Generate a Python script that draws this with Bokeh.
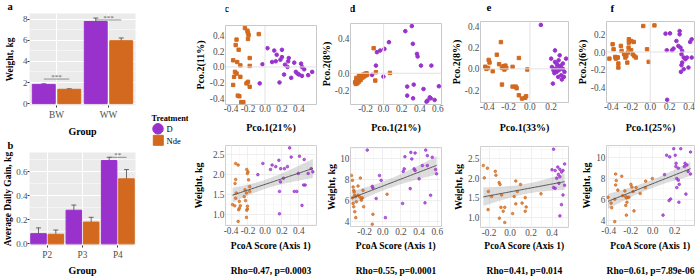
import numpy as np
from bokeh.plotting import figure
from bokeh.models import (Range1d, FixedTicker, Span, Whisker, TeeHead, ColumnDataSource,
                          PrintfTickFormatter, Title)
from bokeh.layouts import row, column
from bokeh.embed import file_html
from bokeh.resources import INLINE
from bokeh.core.properties import value

FONT = "Liberation Serif"
PURPLE = "#9932CC"
ORANGE = "#D2691E"
TICK_COL = "#4D4D4D"

# ------------------------------------------------------------------ data
treatments = ["D", "Nde"]

a_groups = ["BW", "WW"]
a_D = [1.82, 7.79]
a_D_se = [0.06, 0.33]
a_N = [1.36, 5.97]
a_N_se = [0.05, 0.26]
a_sig_groups = ["BW", "WW"]
a_sig = ["***", "***"]
a_sig_y = [2.33, 7.94]

b_groups = ["P2", "P3", "P4"]
b_D = [0.085, 0.280, 0.693]
b_D_se = [0.048, 0.043, 0.027]
b_N = [0.080, 0.181, 0.541]
b_N_se = [0.035, 0.040, 0.077]
b_sig_groups = ["P4"]
b_sig = ["**"]
b_sig_y = [0.72]

# panel c
c_top_D_x = [0.029, 0.109, 0.200, 0.138, 0.200, 0.280, 0.127, 0.182, 0.273, 0.345, -0.029, 0.084, 0.236, 0.425,
             0.265, 0.436, 0.462, 0.364, 0.225, 0.400, 0.382, 0.556, 0.509, 0.436, 0.309, 0.171, -0.062]
c_top_D_y = [0.240, 0.210, 0.219, 0.156, 0.126, 0.114, 0.072, 0.093, 0.072, 0.055, 0.034, 0.063, 0.029, 0.042,
             0.000, 0.000, -0.030, -0.063, -0.097, -0.097, -0.084, -0.063, -0.105, -0.114, -0.139, -0.198, -0.210]
c_top_N_x = [-0.236, -0.207, -0.200, -0.193, -0.073, -0.335, -0.200, -0.345, -0.310, -0.375, -0.180, -0.327, -0.290,
             -0.180, -0.353, -0.335, -0.290, -0.364, -0.200, -0.218, -0.375, -0.180, -0.320, -0.302, -0.280, -0.255]
c_top_N_y = [0.497, 0.463, 0.434, 0.408, 0.420, 0.350, 0.358, 0.280, 0.220, 0.085, 0.114, 0.063, 0.020,
             0.013, -0.063, -0.084, -0.126, -0.126, -0.190, -0.210, -0.230, -0.253, -0.366, -0.375, -0.450, -0.450]
c_bot_D_x = [-0.025, -0.084, 0.084, 0.127, 0.164, 0.185, 0.229, 0.265, 0.291, 0.309, 0.407, 0.462, 0.545,
             0.564, 0.509, 0.393, 0.218, 0.182, 0.345, 0.375, 0.455, 0.473, 0.436, 0.171, 0.171, 0.065]
c_bot_D_y = [2.28, 2.00, 2.24, 2.20, 2.36, 2.15, 2.15, 2.20, 2.67, 2.44, 2.46, 2.38, 2.15,
             2.07, 2.03, 2.03, 1.91, 1.82, 1.58, 1.58, 1.74, 1.74, 1.23, 1.58, 1.02, 2.13]
c_bot_N_x = [-0.353, -0.345, -0.345, -0.316, -0.338, -0.345, -0.382, -0.356, -0.302, -0.290, -0.302, -0.310, -0.316,
             -0.215, -0.200, -0.207, -0.193, -0.180, -0.236, -0.218, -0.244, -0.229, -0.207, -0.207, -0.215, -0.218,
             -0.180]
c_bot_N_y = [1.78, 1.88, 2.28, 2.24, 1.54, 1.41, 1.25, 1.22, 1.33, 1.22, 1.16, 1.12, 0.83,
             2.13, 2.07, 2.03, 1.87, 1.70, 1.62, 1.54, 1.45, 1.35, 1.21, 1.14, 1.11, 0.93, 1.58]

# panel d
d_top_D_x = [-0.074, -0.038, 0.009, 0.059, -0.085, -0.128, -0.002, 0.240, 0.312, 0.323, 0.369, 0.376, 0.413,
             0.528, 0.261, 0.333, 0.261, 0.326, 0.441, 0.521, 0.510, 0.485, 0.474, 0.564, 0.611]
d_top_D_y = [0.245, 0.264, 0.283, 0.361, 0.089, -0.019, -0.039, 0.489, 0.548, 0.342, 0.225, 0.194, 0.089,
             0.089, -0.155, -0.132, -0.260, -0.291, -0.183, -0.291, -0.280, -0.318, -0.330, -0.310, -0.151]
d_top_N_x = [-0.315, -0.301, -0.279, -0.261, -0.243, -0.225, -0.207, -0.189, -0.308, -0.290, -0.272, -0.254,
             -0.236, -0.218, -0.200, -0.182, -0.272, -0.301, -0.110, -0.085, -0.092, 0.070]
d_top_N_y = [-0.105, -0.085, -0.066, -0.047, -0.027, -0.016, -0.008, 0.000, -0.124, -0.117, -0.097, -0.078,
             -0.054, -0.039, -0.027, -0.016, -0.027, -0.054, 0.291, 0.012, -0.085, 0.004]
d_bot_D_x = [-0.171, -0.116, -0.109, -0.036, -0.018, -0.073, 0.029, 0.236, 0.225, 0.244, 0.309, 0.320, 0.356,
             0.345, 0.356, 0.302, 0.400, 0.473, 0.491, 0.436, 0.491, 0.545, 0.582, 0.593, 0.465, 0.527, 0.218]
d_bot_D_y = [10.85, 7.38, 7.22, 8.42, 7.95, 6.21, 4.38, 9.05, 8.80, 10.22, 10.63, 10.00, 10.57,
             9.05, 8.90, 7.16, 8.10, 10.85, 10.32, 9.37, 9.37, 10.16, 8.99, 8.58, 5.80, 6.53, 5.74]
d_bot_N_x = [-0.345, -0.335, -0.327, -0.320, -0.316, -0.309, -0.302, -0.335, -0.291, -0.273, -0.255, -0.236,
             -0.320, -0.309, -0.298, -0.327, -0.247, -0.273, -0.218, -0.225, -0.236, -0.109, -0.116, -0.211, 0.047]
d_bot_N_y = [8.42, 7.95, 7.32, 7.00, 6.84, 6.53, 6.37, 6.27, 5.90, 6.53, 6.37, 6.21,
             5.42, 4.95, 4.38, 5.74, 8.17, 7.41, 7.00, 6.27, 6.05, 4.70, 3.75, 5.42, 6.62]

# panel e
e_top_D_x = [0.103, 0.236, 0.280, 0.200, 0.236, 0.260, 0.280, 0.295, 0.310, 0.325, 0.207, 0.221, 0.251,
             0.266, 0.295, 0.216, 0.242, 0.272, 0.319, 0.340, 0.250, 0.290, 0.230, 0.300, 0.270, 0.310]
e_top_D_y = [0.412, 0.173, 0.127, 0.096, 0.065, 0.034, 0.018, 0.003, 0.050, -0.028, 0.018, -0.013, -0.028,
             -0.075, -0.060, -0.138, 0.003, -0.013, -0.075, 0.096, 0.050, 0.030, -0.040, -0.100, 0.080, 0.000]
e_top_N_x = [-0.420, -0.409, -0.394, -0.388, -0.380, -0.350, -0.311, -0.273, -0.290, -0.263, -0.249, -0.240,
             -0.237, -0.231, -0.222, -0.263, -0.163, -0.163, -0.134, -0.125, -0.104, -0.024, -0.104, -0.075,
             -0.045, -0.036]
e_top_N_y = [0.020, 0.000, 0.009, 0.084, 0.060, -0.022, 0.133, 0.251, 0.044, 0.009, 0.025, -0.006,
             0.019, 0.031, 0.009, -0.147, 0.019, -0.166, -0.166, -0.181, 0.102, -0.006, -0.247, -0.278,
             -0.271, -0.256]
e_bot_D_x = [0.415, 0.400, 0.430, 0.455, 0.475, 0.505, 0.460, 0.445, 0.475, 0.490, 0.466, 0.430, 0.520,
             0.520, 0.505, 0.490, 0.475, 0.415]
e_bot_D_y = [2.75, 2.22, 2.20, 2.29, 2.23, 2.20, 2.10, 2.00, 2.04, 2.16, 1.87, 1.74, 2.37,
             1.82, 1.57, 1.32, 1.03, 1.76]
e_bot_N_x = [-0.254, -0.215, -0.245, -0.206, -0.209, -0.140, -0.134, -0.104, -0.095, -0.176, -0.086, -0.065,
             -0.050, -0.101, -0.050, -0.080, 0.055, 0.100, 0.070, 0.040, 0.025, 0.055, 0.115, 0.145, 0.145,
             0.154, 0.295]
e_bot_N_y = [2.33, 2.26, 2.01, 1.66, 1.19, 2.18, 2.08, 1.89, 1.84, 1.53, 1.25, 1.15,
             1.25, 0.97, 0.86, 1.57, 1.93, 1.84, 1.66, 1.53, 1.09, 1.34, 1.36, 1.50, 1.15,
             1.26, 1.60]

# panel f
f_top_D_x = [0.157, 0.203, 0.170, 0.223, 0.239, 0.269, 0.302, 0.302, 0.289, 0.311, 0.328, 0.321, 0.344,
             0.361, 0.328, 0.321, 0.315, 0.344, 0.393, 0.426, 0.410, 0.426, 0.377, 0.174]
f_top_D_y = [0.208, 0.211, 0.020, 0.020, 0.039, 0.125, 0.237, 0.200, 0.069, 0.050, 0.013, -0.025, -0.062,
             -0.081, -0.119, -0.149, -0.224, -0.194, -0.175, 0.144, 0.114, -0.062, -0.062, -0.539]
f_top_N_x = [-0.420, -0.387, -0.377, -0.360, -0.354, -0.344, -0.334, -0.328, -0.328, -0.302, -0.295, -0.269,
             -0.256, -0.246, -0.236, -0.230, -0.223, -0.220, -0.220, -0.197, -0.197, -0.170, -0.180, -0.164,
             -0.148, -0.072, -0.033, -0.016, 0.043]
f_top_N_y = [-0.074, 0.088, 0.031, -0.055, -0.074, -0.062, -0.062, -0.130, -0.175, 0.069, 0.013, -0.025,
             -0.062, -0.044, -0.119, -0.006, 0.050, 0.144, 0.106, 0.125, 0.020, 0.114, -0.025, -0.044,
             -0.062, 0.294, 0.031, -0.111, 0.301]
f_bot_D_x = [0.094, 0.108, 0.127, 0.155, 0.163, 0.149, 0.191, 0.205, 0.213, 0.211, 0.233, 0.219, 0.233,
             0.241, 0.219, 0.255, 0.288, 0.294, 0.311, 0.344, 0.322, 0.344, 0.302, 0.238]
f_bot_D_y = [4.47, 8.38, 10.25, 10.09, 6.03, 5.88, 10.88, 10.25, 9.47, 9.16, 9.00, 8.00, 7.84,
             7.44, 7.13, 10.88, 9.16, 9.47, 9.31, 10.56, 8.69, 8.44, 6.50, 5.72]
f_bot_N_x = [-0.406, -0.378, -0.373, -0.345, -0.337, -0.331, -0.337, -0.317, -0.345, -0.281, -0.273, -0.253,
             -0.245, -0.239, -0.234, -0.245, -0.239, -0.226, -0.217, -0.198, -0.178, -0.189, -0.170, -0.151,
             -0.114, -0.067, -0.064, -0.003]
f_bot_N_y = [6.19, 5.63, 5.19, 6.00, 8.44, 7.81, 7.38, 6.88, 3.84, 8.22, 6.34, 6.81,
             6.25, 6.13, 5.72, 5.41, 4.47, 6.19, 6.19, 7.44, 6.75, 7.19, 4.88, 7.13,
             6.56, 7.13, 7.75, 8.00]

panel_letters = ["a", "b", "c", "d", "e", "f"]
pc_x_labels = {"c": "Pco.1(21%)", "d": "Pco.1(21%)", "e": "Pco.1(33%)", "f": "Pco.1(25%)"}
pc_y_labels = {"c": "Pco.2(11%)", "d": "Pco.2(8%)", "e": "Pco.2(8%)", "f": "Pco.2(6%)"}
rho_texts = {"c": "Rho=0.47, p=0.0003", "d": "Rho=0.55, p=0.0001",
             "e": "Rho=0.41, p=0.014", "f": "Rho=0.61, p=7.89e-06"}

# ------------------------------------------------------------------ helpers
def new_fig(width, height, xr, yr, bl, br, bt, bb, **kw):
    return figure(width=width, height=height, x_range=Range1d(*xr), y_range=Range1d(*yr),
                  output_backend="svg", toolbar_location=None, title=None,
                  min_border_left=bl, min_border_right=br, min_border_top=bt, min_border_bottom=bb, **kw)


def blank_fig(width, height, x0=0, y0=0):
    p = new_fig(width, height, (x0 + 1, x0 + width - 1), (y0 + height - 1, y0 + 1), 1, 1, 1, 1,
                x_axis_location=None, y_axis_location=None)
    p.grid.visible = False
    p.outline_line_color = None
    return p


def letter_strip(width, height, letter, lx, ly, size="11px"):
    p = blank_fig(width, height)
    p.text(x=[lx], y=[ly], text=[letter], text_font=value(FONT), text_font_size=size,
           text_font_style="bold", text_align="center", text_baseline="middle", text_color="black")
    return p


def add_letter(p, text, offset, standoff, size="10.5px"):
    p.add_layout(Title(text=text, align="left", vertical_align="top", offset=offset, standoff=standoff,
                       text_font=FONT, text_font_size=size, text_font_style="bold",
                       text_color="black"), "above")


def minors(t):
    s = t[1] - t[0]
    return [t[0] - s / 2] + [(a + b) / 2 for a, b in zip(t[:-1], t[1:])] + [t[-1] + s / 2]


def style_axes(p, xticks, yticks, xlabel, ylabel, xls, yls, tick_out=0, xms=0, yms=1,
               lab_size="9.3px", title_size="10px", ytitle_size="10px", line_height=1.2):
    xt = FixedTicker(ticks=xticks, minor_ticks=minors(xticks))
    yt = FixedTicker(ticks=yticks, minor_ticks=minors(yticks))
    p.xaxis.ticker = xt
    p.yaxis.ticker = yt
    p.xgrid.ticker = xt
    p.ygrid.ticker = yt
    for ax, ticks in ((p.xaxis, xticks), (p.yaxis, yticks)):
        if any(abs(t - round(t)) > 1e-9 for t in ticks):
            ax.formatter = PrintfTickFormatter(format="%.1f")
    for ax, lab, ls, ms, ts in ((p.xaxis, xlabel, xls, xms, title_size),
                                (p.yaxis, ylabel, yls, yms, ytitle_size)):
        ax.axis_label = lab
        ax.axis_label_text_font = FONT
        ax.axis_label_text_font_size = ts
        ax.axis_label_text_font_style = "bold"
        ax.axis_label_text_color = "black"
        ax.axis_label_text_line_height = line_height
        ax.axis_label_standoff = ls
        ax.major_label_text_font = FONT
        ax.major_label_text_font_size = lab_size
        ax.major_label_text_color = TICK_COL
        ax.major_label_standoff = ms
        ax.axis_line_color = None
        ax.major_tick_out = tick_out
        ax.major_tick_in = 0
        ax.minor_tick_out = 0
        ax.minor_tick_in = 0
        ax.major_tick_line_color = "#333333" if tick_out else None


def fit_band(x, y):
    x = np.asarray(x, float)
    y = np.asarray(y, float)
    n = len(x)
    b, a = np.polyfit(x, y, 1)
    xs = np.linspace(x.min(), x.max(), 60)
    yhat = a + b * xs
    s = np.sqrt(np.sum((y - (a + b * x)) ** 2) / (n - 2))
    sxx = np.sum((x - x.mean()) ** 2)
    se = s * np.sqrt(1.0 / n + (xs - x.mean()) ** 2 / sxx)
    return xs, yhat, yhat - 2.0 * se, yhat + 2.0 * se


# ------------------------------------------------------------------ bar panels
def bar_panel(groups, D, Dse, N, Nse, sig_groups, sig, sig_y, star_dy, xr, yr, yticks, ylabel,
              height, bt, bb, yls, xls):
    fl, fr = 24, 135
    p = new_fig(145, height, xr, yr, fl, 145 - fr, bt, bb)
    p.background_fill_color = "#EBEBEB"
    p.outline_line_color = None
    pos = np.arange(1, len(groups) + 1)
    idx = {g: i + 1 for i, g in enumerate(groups)}
    dg, bw = 0.245, 0.44
    xD, xN = pos - dg, pos + dg
    p.vbar(x=xD, top=D, width=bw, color=PURPLE)
    p.vbar(x=xN, top=N, width=bw, color=ORANGE)
    lo = np.concatenate([np.array(D) - np.array(Dse), np.array(N) - np.array(Nse)])
    hi = np.concatenate([np.array(D) + np.array(Dse), np.array(N) + np.array(Nse)])
    src = ColumnDataSource(dict(x=np.concatenate([xD, xN]), lo=lo, hi=hi))
    p.add_layout(Whisker(source=src, base="x", lower="lo", upper="hi", line_color="#333333",
                         line_width=0.7,
                         upper_head=TeeHead(size=5, line_color="#333333", line_width=0.7),
                         lower_head=TeeHead(size=5, line_color="#333333", line_width=0.7)))
    sx0 = [idx[g] - dg for g in sig_groups]
    sx1 = [idx[g] + dg for g in sig_groups]
    p.segment(x0=sx0, y0=sig_y, x1=sx1, y1=sig_y, line_color="#666666", line_width=0.7)
    p.text(x=[idx[g] for g in sig_groups], y=[v + star_dy for v in sig_y], text=sig,
           text_font=value(FONT), text_font_size="7px", text_align="center",
           text_baseline="middle", text_color="#555555")
    style_axes(p, list(pos), yticks, "Group", ylabel, xls, yls, tick_out=2, xms=2, yms=0,
               lab_size="9px", title_size="10px", ytitle_size="9.5px")
    p.xaxis.major_label_overrides = {int(i): g for i, g in zip(pos, groups)}
    p.xaxis.major_label_text_font_size = "9.3px"
    p.xgrid.grid_line_color = "white"
    p.ygrid.grid_line_color = "white"
    p.xgrid.grid_line_width = 1
    p.ygrid.grid_line_width = 1
    p.ygrid.minor_grid_line_color = "white"
    p.ygrid.minor_grid_line_width = 0.5
    return p


# column 1: panel a (0-139) and panel b (139-278), letters as left-aligned titles
fa = bar_panel(a_groups, a_D, a_D_se, a_N, a_N_se, a_sig_groups, a_sig, a_sig_y, 0.2,
               (0.48, 2.52), (-0.18, 8.55), [0, 2, 4, 6, 8], "Weight, kg", 139, 11, 33, 5, 3)
add_letter(fa, panel_letters[0], 2 - 24, 0)
fb = bar_panel(b_groups, b_D, b_D_se, b_N, b_N_se, b_sig_groups, b_sig, b_sig_y, 0.018,
               (0.5, 3.5), (-0.0136, 0.76), [0.0, 0.2, 0.4, 0.6], "Average Daily Gain, kg",
               139, 12, 31, 0, 2)
add_letter(fb, panel_letters[1], 2 - 24, 0)

# ------------------------------------------------------------------ legend
fleg = blank_fig(44, 278, x0=145, y0=0)
fleg.text(x=[151], y=[118.3], text=["Treatment"], text_font=value(FONT), text_font_size="8.3px",
          text_font_style="bold", text_baseline="middle", text_align="left", text_color="black")
fleg.scatter(x=[157.5], y=[128.3], marker="circle", size=10.5, color=PURPLE)
fleg.scatter(x=[157.8], y=[139.8], marker="square", size=10, color=ORANGE)
fleg.text(x=[166, 166], y=[128.6, 140.1], text=treatments, text_font=value(FONT),
          text_font_size="8.5px", text_baseline="middle", text_align="left", text_color="black")

# ------------------------------------------------------------------ scatter panels
STRIP_H = 14
COL = {
    "c": dict(left=189, width=128, fl=219, fr=317),
    "d": dict(left=317, width=130, fl=348, fr=441),
    "e": dict(left=447, width=126, fl=474, fr=568),
    "f": dict(left=573, width=123, fl=600, fr=694),
}
TOP_Y = {"c": (25, 104), "d": (23, 104), "e": (21, 102), "f": (21, 102)}
BOT_Y = {"c": (145, 226), "d": (147, 227), "e": (146, 228), "f": (145, 226)}
LETTER_X = {"c": 191.7, "d": 320.5, "e": 460.0, "f": 582.0}

TOP_SPEC = {
    "c": dict(xr=(-0.465, 0.607), yr=(-0.48, 0.53), xt=[-0.4, -0.2, 0.0, 0.2, 0.4],
              yt=[-0.4, -0.2, 0.0, 0.2, 0.4], D=(c_top_D_x, c_top_D_y), N=(c_top_N_x, c_top_N_y), yls=1),
    "d": dict(xr=(-0.366, 0.64), yr=(-0.363, 0.578), xt=[-0.2, 0.0, 0.2, 0.4, 0.6],
              yt=[-0.2, 0.0, 0.4], D=(d_top_D_x, d_top_D_y), N=(d_top_N_x, d_top_N_y), yls=0),
    "e": dict(xr=(-0.465, 0.363), yr=(-0.315, 0.444), xt=[-0.4, -0.2, 0.0, 0.2],
              yt=[-0.2, 0.0, 0.2, 0.4], D=(e_top_D_x, e_top_D_y), N=(e_top_N_x, e_top_N_y), yls=0),
    "f": dict(xr=(-0.45, 0.455), yr=(-0.57, 0.345), xt=[-0.4, -0.2, 0.0, 0.2, 0.4],
              yt=[-0.4, -0.2, 0.0, 0.2], D=(f_top_D_x, f_top_D_y), N=(f_top_N_x, f_top_N_y), yls=0),
}
BOT_SPEC = {
    "c": dict(xr=(-0.465, 0.607), yr=(0.727, 2.73), xt=[-0.4, -0.2, 0.0, 0.2, 0.4],
              yt=[1.0, 1.5, 2.0, 2.5], D=(c_bot_D_x, c_bot_D_y), N=(c_bot_N_x, c_bot_N_y), yls=6),
    "d": dict(xr=(-0.356, 0.647), yr=(3.53, 11.1), xt=[-0.2, 0.0, 0.2, 0.4, 0.6],
              yt=[4, 6, 8, 10], D=(d_bot_D_x, d_bot_D_y), N=(d_bot_N_x, d_bot_N_y), yls=0),
    "e": dict(xr=(-0.281, 0.557), yr=(0.73, 2.82), xt=[-0.2, 0.0, 0.2, 0.4],
              yt=[1.0, 1.5, 2.0, 2.5], D=(e_bot_D_x, e_bot_D_y), N=(e_bot_N_x, e_bot_N_y), yls=1),
    "f": dict(xr=(-0.42, 0.38), yr=(3.47, 11.19), xt=[-0.4, -0.2, 0.0, 0.2],
              yt=[4, 6, 8, 10], D=(f_bot_D_x, f_bot_D_y), N=(f_bot_N_x, f_bot_N_y), yls=1),
}

columns = []
for k in ["c", "d", "e", "f"]:
    g = COL[k]
    bl = g["fl"] - g["left"]
    br = g["left"] + g["width"] - g["fr"]

    strip = letter_strip(g["width"], STRIP_H, k, LETTER_X[k] - g["left"], 7)

    # --- top: PCoA
    s = TOP_SPEC[k]
    ft, fbm = TOP_Y[k]
    pt = new_fig(g["width"], 138 - STRIP_H, s["xr"], s["yr"], bl, br, ft - STRIP_H, 138 - fbm)
    pt.outline_line_color = "#C8C8C8"
    pt.add_layout(Span(location=0, dimension="height", line_color="#E2E2E2", line_width=1))
    pt.add_layout(Span(location=0, dimension="width", line_color="#E2E2E2", line_width=1))
    pt.scatter(x=s["N"][0], y=s["N"][1], marker="square", size=3.4, color=ORANGE)
    pt.scatter(x=s["D"][0], y=s["D"][1], marker="circle", size=3.6, color=PURPLE)
    xls = int(round((126.5 - fbm) - 10.3 - 5.5))
    style_axes(pt, s["xt"], s["yt"], pc_x_labels[k], pc_y_labels[k], xls, s["yls"])
    pt.grid.visible = False

    # --- bottom: correlation
    s = BOT_SPEC[k]
    ft, fbm = BOT_Y[k]
    pb = new_fig(g["width"], 140, s["xr"], s["yr"], bl, br, ft - 138, 278 - fbm)
    pb.outline_line_color = "#D0D0D0"
    allx = list(s["D"][0]) + list(s["N"][0])
    ally = list(s["D"][1]) + list(s["N"][1])
    xs, yh, lo, hi = fit_band(allx, ally)
    pb.varea(x=xs, y1=lo, y2=hi, fill_color="#9E9E9E", fill_alpha=0.35)
    pb.scatter(x=s["N"][0], y=s["N"][1], marker="circle", size=2.6, color=ORANGE, alpha=0.75)
    pb.scatter(x=s["D"][0], y=s["D"][1], marker="circle", size=2.6, color=PURPLE, alpha=0.75)
    pb.line(x=xs, y=yh, line_color="#555555", line_width=1)
    xls = int(round((246.5 - fbm) - 1 - 10.3 - 5.3))
    style_axes(pb, s["xt"], s["yt"], "PcoA Score (Axis 1)\n\n" + rho_texts[k], "Weight, kg",
               xls, s["yls"], xms=1, title_size="9.5px", line_height=1.25)
    pb.yaxis.axis_label_text_font_size = "10px"
    pb.grid.grid_line_color = "#EBEBEB"
    pb.grid.grid_line_width = 0.8
    pb.grid.minor_grid_line_color = "#F4F4F4"
    pb.grid.minor_grid_line_width = 0.6

    columns.append(column(strip, pt, pb, spacing=0))

layout = row(column(fa, fb, spacing=0), fleg, *columns, spacing=0)

with open("out.html", "w") as fh:
    fh.write(file_html(layout, INLINE))
